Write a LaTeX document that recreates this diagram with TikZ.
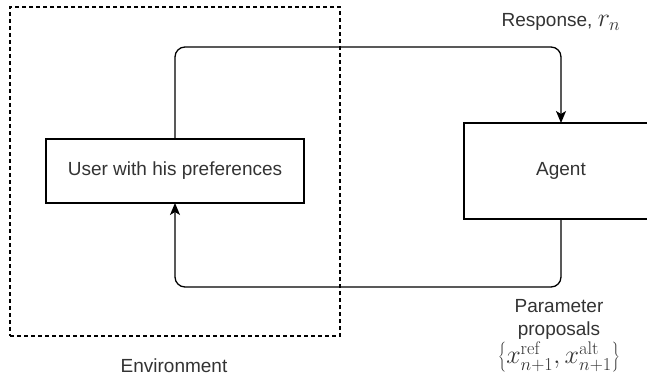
\RequirePackage{fix-cm}
\documentclass[tikz,border=0pt]{standalone}
\usepackage[no-math]{fontspec}
\setmainfont{Liberation Sans}
\usetikzlibrary{arrows.meta}
\newcommand\mymath[1]{{\fontsize{26}{30}\selectfont$#1$}}
\begin{document}
\begin{tikzpicture}[x=1pt,y=-1pt,line width=1.3pt,
  box/.style={draw,rectangle,inner sep=0pt,outer sep=0pt,text=black!80,font=\fontsize{19}{23}\selectfont},
  lbl/.style={text=black!80,font=\fontsize{19}{23}\selectfont,inner sep=0pt},
  flow/.style={-{Stealth[length=12pt,width=10pt,inset=3pt]},rounded corners=10pt},
  envbox/.style={draw,dash pattern=on 4pt off 3pt,line width=1.2pt,inner sep=0pt,outer sep=0pt}]
\useasboundingbox (0,0) rectangle (647,377);
\node[envbox,minimum width=330pt,minimum height=329pt] (env) at (175,171.5) {};
\node[box,minimum width=258pt,minimum height=64pt] (user) at (175,171) {User with his preferences};
\node[box,minimum width=194pt,minimum height=96pt] (agent) at (561,171) {Agent};
\coordinate (tl) at (175,47);
\coordinate (tr) at (561,47);
\coordinate (bl) at (175,287);
\coordinate (br) at (561,287);
\draw[flow] (user.north) -- (tl) -- (tr) -- (agent.north);
\draw[flow] (agent.south) -- (br) -- (bl) -- (user.south);
\node[lbl] (resp) at (561,22) {Response, \mymath{r_n}};
\node[lbl,align=center,anchor=north] (param) at (559,299) {Parameter\\proposals\\[1pt]\mymath{\left\{x^{\mathrm{ref}}_{n+1}, x^{\mathrm{alt}}_{n+1}\right\}}};
\node[lbl] (envlbl) at (174,366) {Environment};
\end{tikzpicture}
\end{document}
